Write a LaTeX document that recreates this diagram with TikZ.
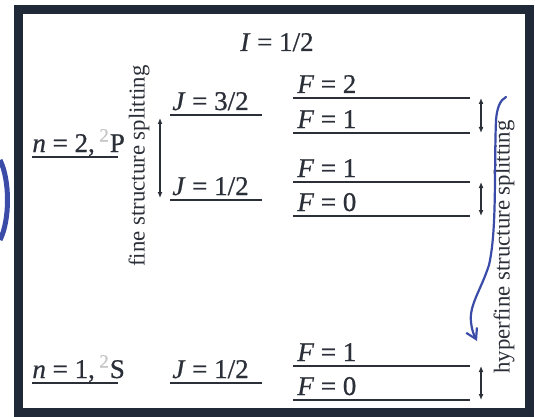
\documentclass[tikz,border=0pt]{standalone}
\usepackage{fontspec}
\setmainfont{Liberation Serif}
\newfontfamily\labfont[FakeBold=0.7]{Liberation Serif}
\usetikzlibrary{arrows.meta}
\definecolor{frame}{HTML}{1F2937}
\definecolor{ink}{HTML}{2B2F38}
\definecolor{pen}{HTML}{3B4BA8}
\begin{document}
\begin{tikzpicture}[x=0.5pt,y=-0.5pt,
  lvl/.style={line width=1.4pt, draw=ink},
  lab/.style={anchor=base west, inner sep=0pt, text=ink, font=\labfont\fontsize{13.5}{16}\selectfont},
  rot/.style={rotate=90, inner sep=0pt, text=ink, font=\fontsize{11.4}{13}\selectfont},
  gap/.style={{Latex[length=3pt,width=2.5pt]}-{Latex[length=3pt,width=2.5pt]}, line width=0.8pt, draw=ink},
]
\useasboundingbox (0,0) rectangle (535,417);
\fill[white] (0,0) rectangle (535,417);
\draw[frame, line width=4.5pt] (18,10) rectangle (529,412);
% left blue mark
\draw[pen, line width=2.5pt] (0,160) .. controls (10,180) and (10,220) .. (0,240);

% coordinates of level lines
\foreach \nm/\y in {f2/98, f1a/133, f1b/182, f0b/216, f1c/366, f0c/400}{
  \coordinate (\nm L) at (293,\y); \coordinate (\nm R) at (470,\y);
  \coordinate (\nm A) at (481,\y);
}
\foreach \nm/\y in {j3/115, j1/200, j1s/383}{
  \coordinate (\nm L) at (170,\y); \coordinate (\nm R) at (262,\y);
}
\foreach \nm/\y in {n2/157, n1/383}{
  \coordinate (\nm L) at (32,\y); \coordinate (\nm R) at (118,\y);
}
\foreach \nm in {f2,f1a,f1b,f0b,f1c,f0c,j3,j1,j1s,n2,n1}{
  \draw[lvl] (\nm L) -- (\nm R);
}

% labels
\node[lab, anchor=base] (I) at (277,51) {\textit{I} = 1/2};
\node[lab] (F2) at (297,93) {\textit{F} = 2};
\node[lab] (F1a) at (297,128) {\textit{F} = 1};
\node[lab] (F1b) at (297,177) {\textit{F} = 1};
\node[lab] (F0b) at (297,211) {\textit{F} = 0};
\node[lab] (F1c) at (297,361) {\textit{F} = 1};
\node[lab] (F0c) at (297,395) {\textit{F} = 0};
\node[lab] (J3) at (172,110) {\textit{J} = 3/2};
\node[lab] (J1) at (172,195) {\textit{J} = 1/2};
\node[lab] (J1s) at (172,378) {\textit{J} = 1/2};
\node[lab] (N2) at (32,152) {\textit{n} = 2,\,{\color{gray!45}\textsuperscript{2}}P};
\node[lab] (N1) at (32,378) {\textit{n} = 1,\,{\color{gray!45}\textsuperscript{2}}S};

% splitting arrows
\coordinate (fsT) at (160,118);
\coordinate (fsB) at (160,198);
\draw[gap] (fsT) -- (fsB);
\draw[gap] (f2A) -- (f1aA);
\draw[gap] (f1bA) -- (f0bA);
\draw[gap] (f1cA) -- (f0cA);

\node[rot] (fss) at (139,166) {fine structure splitting};
\node[rot] (hfs) at (504,247) {hyperfine structure splitting};

% blue handwritten arrow
\coordinate (bS) at (506,97);
\coordinate (bE) at (477,341);
\draw[pen, line width=1.1pt, line cap=round, -{Straight Barb[length=5pt,width=6pt]}]
  (bS) .. controls (500,100) and (497,108) .. (496,120)
  .. controls (494,170) and (497,230) .. (489,265)
  .. controls (481,290) and (469,305) .. (471,322)
  .. controls (472,332) and (475,337) .. (bE);
\end{tikzpicture}
\end{document}
